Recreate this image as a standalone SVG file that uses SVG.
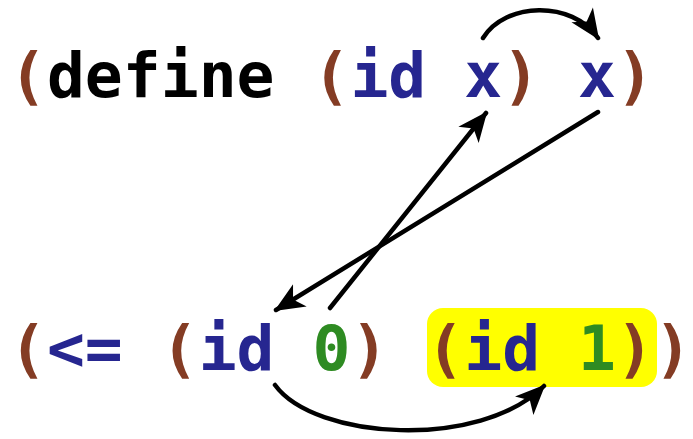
<svg xmlns="http://www.w3.org/2000/svg" width="693" height="439" viewBox="0 0 693 439">
  <style>
    .code { font-family: "DejaVu Sans Mono", "Liberation Mono", monospace; font-weight: bold; font-size: 63px; white-space: pre; }
    .paren { fill: #843c24; }
    .kw { fill: #000000; }
    .id { fill: #262690; }
    .num { fill: #2e8b22; }
    .link { fill: none; stroke: #000; stroke-width: 4.5; stroke-linecap: round; }
  </style>
  <defs>
    <marker id="arrow" markerUnits="userSpaceOnUse" markerWidth="40" markerHeight="36" viewBox="-36 -18 40 36" refX="0" refY="0" orient="auto">
      <path d="M2,0 L-28,-13 L-20,0 L-28,13 Z" fill="#000"/>
    </marker>
  </defs>

  <rect width="693" height="439" fill="#fff"/>

  <!-- highlighted subexpression -->
  <rect id="highlight" x="427" y="308" width="230" height="79" rx="16" fill="#ffff00"/>

  <g id="line-define">
    <text class="code" x="9" y="97" xml:space="preserve"><tspan class="paren">(</tspan><tspan class="kw">define</tspan> <tspan class="paren">(</tspan><tspan class="id">id x</tspan><tspan class="paren">)</tspan> <tspan class="id">x</tspan><tspan class="paren">)</tspan></text>
  </g>

  <g id="line-use">
    <text class="code" x="9" y="370" xml:space="preserve"><tspan class="paren">(</tspan><tspan class="id">&lt;=</tspan> <tspan class="paren">(</tspan><tspan class="id">id</tspan> <tspan class="num">0</tspan><tspan class="paren">)</tspan> <tspan class="paren">(</tspan><tspan class="id">id</tspan> <tspan class="num">1</tspan><tspan class="paren">))</tspan></text>
  </g>

  <g id="connectors">
    <path class="link" d="M483,38 C505,2 572,0 598,38" marker-end="url(#arrow)"/>
    <path class="link" d="M330,308 L486,113" marker-end="url(#arrow)"/>
    <path class="link" d="M598,112 L276,310" marker-end="url(#arrow)"/>
    <path class="link" d="M275,385 C315,440 480,450 544,386" marker-end="url(#arrow)"/>
  </g>
</svg>
